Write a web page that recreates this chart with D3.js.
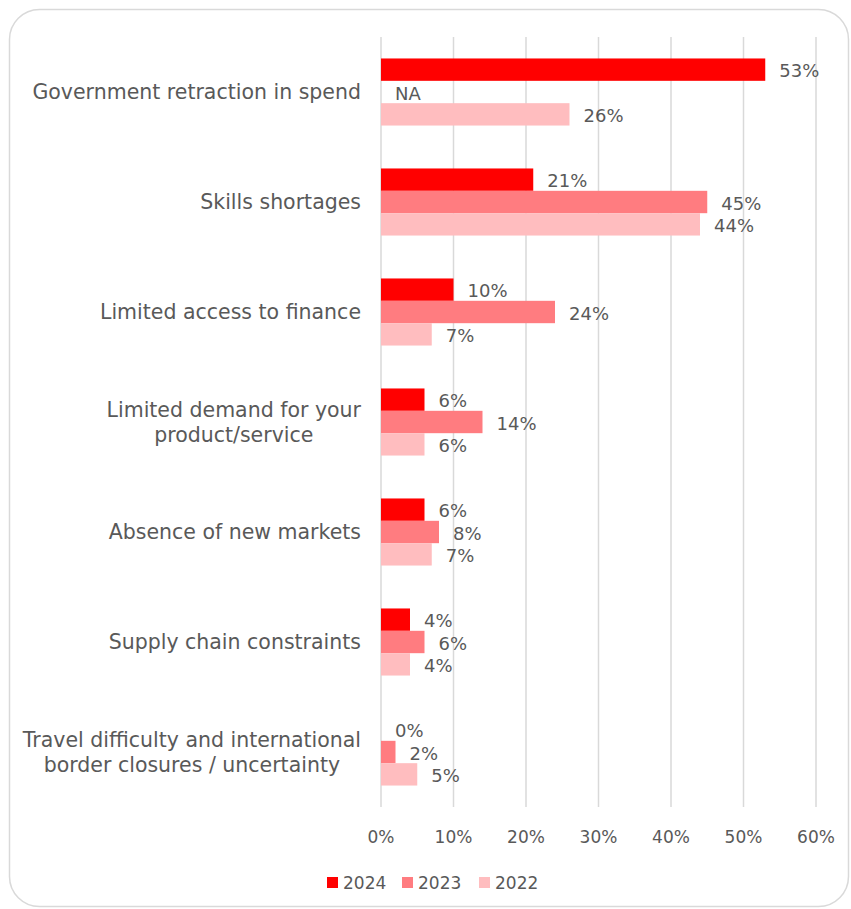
<!DOCTYPE html>
<html>
<head>
<meta charset="utf-8">
<script src="https://cdn.jsdelivr.net/npm/d3@7"></script>
<style>
  html, body { margin: 0; padding: 0; background: #fff; }
  svg text { font-family: "DejaVu Sans", sans-serif; fill: #595959; }
</style>
</head>
<body>
<svg id="chart" width="851" height="909"></svg>
<script>
// Barriers to growth, share of respondents by survey year
const categories = [
  ["Government retraction in spend"],
  ["Skills shortages"],
  ["Limited access to finance"],
  ["Limited demand for your", "product/service"],
  ["Absence of new markets"],
  ["Supply chain constraints"],
  ["Travel difficulty and international", "border closures / uncertainty"]
];
const years = ["2024", "2023", "2022"];
const values2024 = [53, 21, 10, 6, 6, 4, 0];
const values2023 = [null, 45, 24, 14, 8, 6, 2];   // null = question not asked (NA)
const values2022 = [26, 44, 7, 6, 7, 4, 5];
const colors = ["#FF0000", "#FF7C80", "#FFBDBF"];
const tickValues = [0, 10, 20, 30, 40, 50, 60];

const series = [values2024, values2023, values2022];

const svg = d3.select("#chart");

// Rounded frame around the chart
svg.append("rect")
  .attr("x", 9.5).attr("y", 9.5)
  .attr("width", 839).attr("height", 897)
  .attr("rx", 30).attr("ry", 30)
  .attr("fill", "#fff")
  .attr("stroke", "#d9d9d9")
  .attr("stroke-width", 1.5);

const x = d3.scaleLinear().domain([0, 60]).range([381, 816]);
const y = d3.scaleBand().domain(d3.range(categories.length)).range([37, 807]);
const inner = d3.scaleBand().domain(years).range([0, y.bandwidth()]).paddingOuter(0.96).paddingInner(0);

// Vertical gridlines
svg.append("g")
  .selectAll("line")
  .data(tickValues)
  .join("line")
  .attr("x1", d => x(d)).attr("x2", d => x(d))
  .attr("y1", 37).attr("y2", 807)
  .attr("stroke", "#d9d9d9")
  .attr("stroke-width", 1.5);

// X axis tick labels
svg.append("g")
  .selectAll("text")
  .data(tickValues)
  .join("text")
  .attr("x", d => x(d))
  .attr("y", 837)
  .attr("text-anchor", "middle")
  .attr("dominant-baseline", "central")
  .style("font-size", "17px")
  .text(d => d + "%");

// Category labels: each block is right-aligned to the axis, lines centred within the block
const labelRight = 361;
const catG = svg.append("g");
categories.forEach((lines, i) => {
  const cy = y(i) + y.bandwidth() / 2;
  const lh = 25;
  const t = catG.append("text")
    .style("font-size", "20.5px");
  const spans = lines.map((ln, j) =>
    t.append("tspan")
      .attr("y", cy + (j - (lines.length - 1) / 2) * lh)
      .attr("dominant-baseline", "central")
      .text(ln)
  );
  const widest = d3.max(spans, s => s.node().getComputedTextLength());
  spans.forEach(s => {
    s.attr("x", labelRight - widest / 2).attr("text-anchor", "middle");
  });
  t.attr("text-anchor", "middle");
});

// Bars and value labels
series.forEach((vals, s) => {
  const g = svg.append("g");
  vals.forEach((v, i) => {
    const by = y(i) + inner(years[s]);
    const bh = inner.bandwidth();
    if (v !== null) {
      g.append("rect")
        .attr("x", x(0))
        .attr("y", by)
        .attr("width", x(v) - x(0))
        .attr("height", bh)
        .attr("fill", colors[s]);
    }
    g.append("text")
      .attr("x", x(v === null ? 0 : v) + 14)
      .attr("y", by + bh / 2 + 1)
      .attr("dominant-baseline", "central")
      .style("font-size", "18px")
      .text(v === null ? "NA" : v + "%");
  });
});

// Legend
const legendX = [327, 402, 479];
const legend = svg.append("g");
years.forEach((yr, i) => {
  legend.append("rect")
    .attr("x", legendX[i]).attr("y", 877)
    .attr("width", 11).attr("height", 11)
    .attr("fill", colors[i]);
  legend.append("text")
    .attr("x", legendX[i] + 16)
    .attr("y", 883)
    .attr("dominant-baseline", "central")
    .style("font-size", "17px")
    .text(yr);
});
</script>
</body>
</html>
